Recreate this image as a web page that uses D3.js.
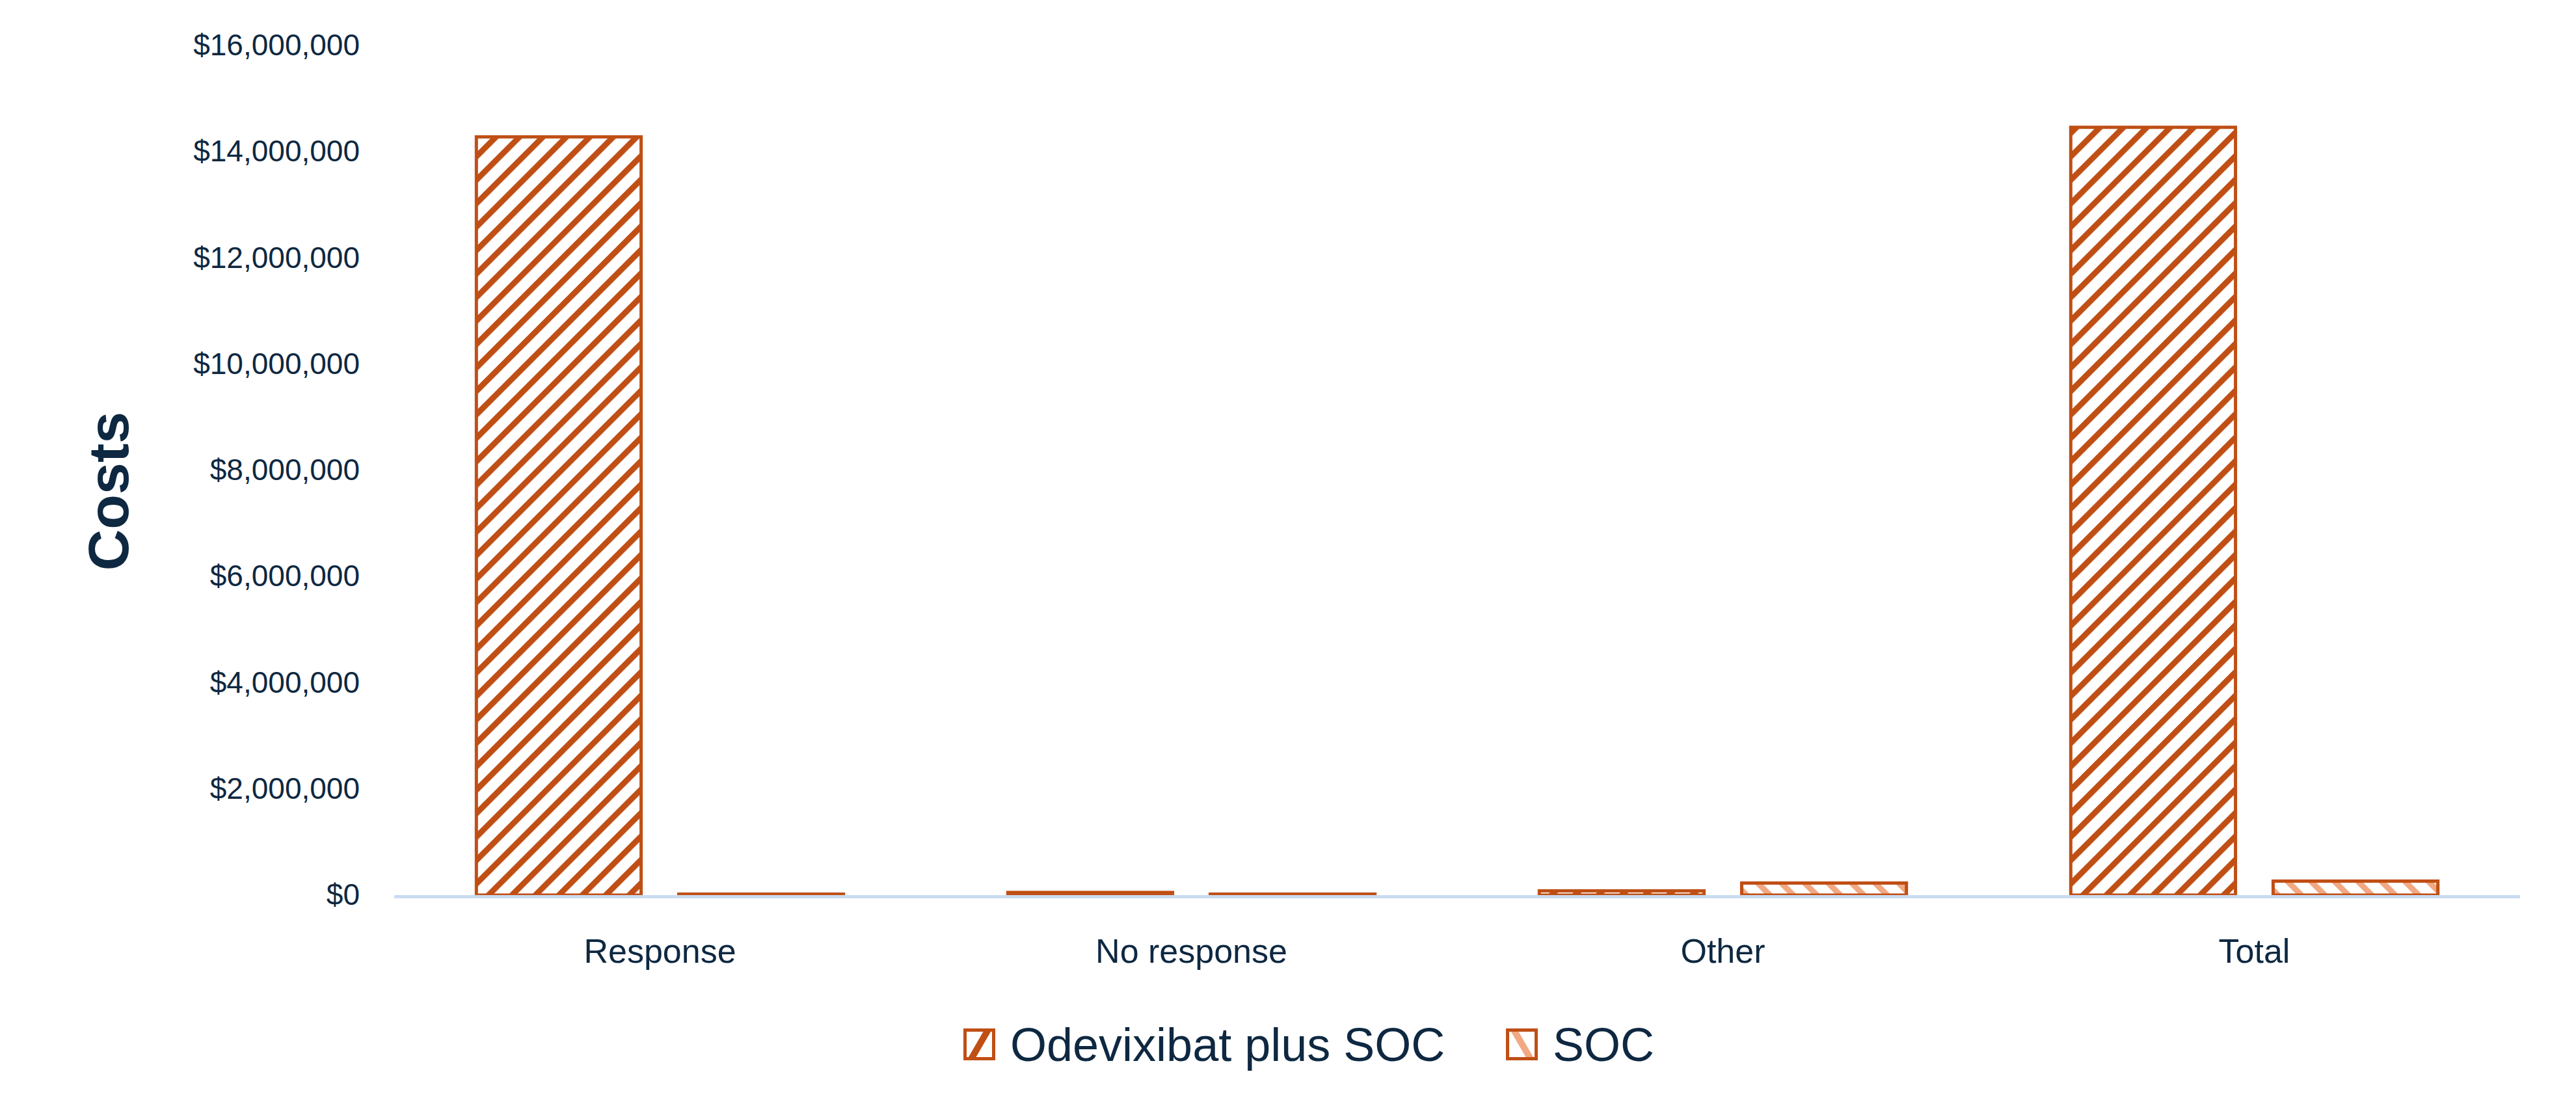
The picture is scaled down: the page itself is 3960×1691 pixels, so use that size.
<!DOCTYPE html>
<html>
<head>
<meta charset="utf-8">
<script src="https://cdn.jsdelivr.net/npm/d3@7"></script>
<style>
  html, body { margin: 0; padding: 0; background: #ffffff; }
  svg { display: block; }
  .axis text { fill: #0e2841; font-family: "Liberation Sans", Arial, sans-serif; }
</style>
</head>
<body>
<div id="chart"></div>
<script>

// chart values
const categories = ["Response", "No response", "Other", "Total"];
const seriesNames = ["Odevixibat plus SOC", "SOC"];
const odevixibatCosts = [14280000, 50000, 80000, 14460000];
const socCosts = [18000, 18000, 227000, 263000];
const yTicks = [0, 2000000, 4000000, 6000000, 8000000, 10000000, 12000000, 14000000, 16000000];

const seriesValues = [odevixibatCosts, socCosts];

// colours
const darkOrange = "#c04f15";
const lightOrange = "#f1a983";
const navy = "#0e2841";
const axisBlue = "#c9dcf1";

const width = 3960, height = 1691;
const plot = {left: 606, right: 3874, top: 70, bottom: 1376};

let svg = d3.select("#chart").append("svg")
    .attr("width", width)
    .attr("height", height);

svg.append("rect")
    .attr("width", width)
    .attr("height", height)
    .attr("fill", "#ffffff");

// hatch patterns for the two series
let defs = svg.append("defs");

function addHatch(id, angle, color, gap, thick) {
    let p = defs.append("pattern")
        .attr("id", id)
        .attr("patternUnits", "userSpaceOnUse")
        .attr("width", gap)
        .attr("height", gap)
        .attr("patternTransform", "rotate(" + angle + ")");
    p.append("rect")
        .attr("width", gap)
        .attr("height", gap)
        .attr("fill", "#ffffff");
    p.append("rect")
        .attr("x", 0)
        .attr("width", thick)
        .attr("height", gap)
        .attr("fill", color);
}
addHatch("hatch-odev", 45, darkOrange, 25.5, 9);
addHatch("hatch-soc", -45, lightOrange, 25.5, 9);
const fills = ["url(#hatch-odev)", "url(#hatch-soc)"];
const stripeColors = [darkOrange, lightOrange];

// scales
let x0 = d3.scaleBand()
    .domain(categories)
    .range([plot.left, plot.right])
    .padding(0);

let x1 = d3.scaleBand()
    .domain(d3.range(seriesNames.length))
    .range([0, x0.bandwidth()])
    .paddingInner(0.186)
    .paddingOuter(0.406);

let y = d3.scaleLinear()
    .domain([0, 16000000])
    .range([plot.bottom, plot.top]);

// y axis labels
let yAxis = d3.axisLeft(y)
    .tickValues(yTicks)
    .tickSize(0)
    .tickPadding(53)
    .tickFormat(d => "$" + d3.format(",")(d));

let gy = svg.append("g")
    .attr("class", "axis")
    .attr("transform", "translate(" + plot.left + ",0)")
    .call(yAxis);
gy.select(".domain").remove();
gy.selectAll("text").attr("font-size", 46);

// bars
let rows = categories.map((c, i) => ({
    category: c,
    values: seriesValues.map((s, j) => ({series: j, value: s[i]}))
}));

let groups = svg.selectAll(".group")
    .data(rows)
    .enter().append("g")
    .attr("class", "group")
    .attr("transform", d => "translate(" + x0(d.category) + ",0)");

groups.selectAll("rect")
    .data(d => d.values)
    .enter().append("rect")
    .attr("x", d => x1(d.series))
    .attr("y", d => y(d.value))
    .attr("width", x1.bandwidth())
    .attr("height", d => y(0) - y(d.value))
    .attr("fill", d => fills[d.series])
    .attr("stroke", darkOrange)
    .attr("stroke-width", 5);

// baseline
svg.append("line")
    .attr("x1", plot.left)
    .attr("x2", plot.right)
    .attr("y1", y(0) + 2.5)
    .attr("y2", y(0) + 2.5)
    .attr("stroke", axisBlue)
    .attr("stroke-width", 5);

// category labels
let xAxis = d3.axisBottom(x0)
    .tickSize(0)
    .tickPadding(67);

let gx = svg.append("g")
    .attr("class", "axis")
    .attr("transform", "translate(0," + plot.bottom + ")")
    .call(xAxis);
gx.select(".domain").remove();
gx.selectAll("text").attr("font-size", 52);

// y axis title
svg.append("text")
    .attr("transform", "translate(166,755) rotate(-90)")
    .attr("text-anchor", "middle")
    .attr("dominant-baseline", "central")
    .attr("font-family", "'Liberation Sans', Arial, sans-serif")
    .attr("font-weight", "bold")
    .attr("font-size", 88)
    .attr("fill", navy)
    .text("Costs");

// legend
const legendX = [1481, 2315];
const boxSize = 49, legendY = 1581;

let legend = svg.selectAll(".legend")
    .data(seriesNames)
    .enter().append("g")
    .attr("class", "legend")
    .attr("transform", (d, i) => "translate(" + legendX[i] + "," + legendY + ")");

legend.append("clipPath")
    .attr("id", (d, i) => "legclip" + i)
    .append("rect")
    .attr("width", boxSize)
    .attr("height", boxSize);

legend.append("rect")
    .attr("width", boxSize)
    .attr("height", boxSize)
    .attr("fill", "#ffffff");

legend.append("line")
    .attr("clip-path", (d, i) => "url(#legclip" + i + ")")
    .attr("x1", (d, i) => i === 0 ? boxSize * 0.22 : boxSize * 0.22)
    .attr("y1", (d, i) => i === 0 ? boxSize : 0)
    .attr("x2", (d, i) => i === 0 ? boxSize * 0.8 : boxSize * 0.8)
    .attr("y2", (d, i) => i === 0 ? 0 : boxSize)
    .attr("stroke", (d, i) => stripeColors[i])
    .attr("stroke-width", 10);

legend.append("rect")
    .attr("x", 2.5)
    .attr("y", 2.5)
    .attr("width", boxSize - 5)
    .attr("height", boxSize - 5)
    .attr("fill", "none")
    .attr("stroke", darkOrange)
    .attr("stroke-width", 5);

legend.append("text")
    .attr("x", 72)
    .attr("y", 50)
    .attr("font-family", "'Liberation Sans', Arial, sans-serif")
    .attr("font-size", 72)
    .attr("fill", navy)
    .text(d => d);

</script>
</body>
</html>
